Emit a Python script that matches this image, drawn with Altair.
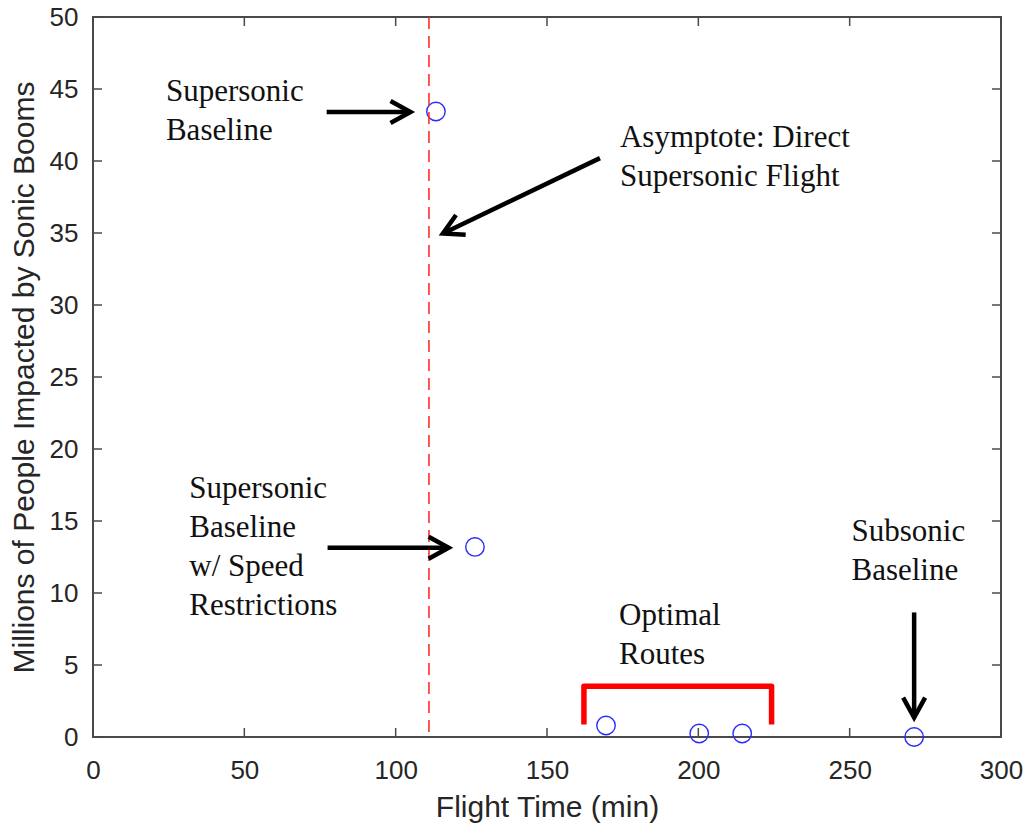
import altair as alt
import pandas as pd

# ---------------- data ----------------
flight_time = [113.3, 126.2, 169.5, 200.3, 214.5, 271.3]
people_millions = [43.44, 13.2, 0.8, 0.24, 0.24, 0.0]

asymptote_x = [111.0]

arrow_x_start = [77.2, 167.5, 77.5, 271.3]
arrow_y_start = [43.4, 40.2, 13.14, 8.65]
arrow_x_end = [104.9, 115.6, 117.5, 271.3]
arrow_y_end = [43.4, 34.96, 13.14, 1.35]
arrow_angle = [0, 154, 0, 90]

bracket_x = [162.2, 162.2, 224.2, 224.2]
bracket_y = [0.87, 3.53, 3.53, 0.87]
bracket_order = [0, 1, 2, 3]

label_text = [
    "Supersonic\nBaseline",
    "Asymptote: Direct\nSupersonic Flight",
    "Supersonic\nBaseline\nw/ Speed\nRestrictions",
    "Optimal\nRoutes",
    "Subsonic\nBaseline",
]
label_x = [24.1, 174.1, 31.8, 173.8, 250.6]
label_y = [44.15, 40.94, 16.63, 7.81, 13.6]

x_ticks = [0, 50, 100, 150, 200, 250, 300]
y_ticks = [0, 5, 10, 15, 20, 25, 30, 35, 40, 45, 50]

W, H = 908, 720
TICK = 9
AXIS_COLOR = "#4a4a4a"
TEXT_COLOR = "#262626"

xs = alt.Scale(domain=[0, 300], nice=False, zero=False)
ys = alt.Scale(domain=[0, 50], nice=False, zero=False)

x_axis = alt.Axis(
    values=x_ticks, title="Flight Time (min)", grid=False, ticks=False, tickSize=0,
    domain=False, labelPadding=20, titlePadding=9, labelFontSize=26, titleFontSize=30,
    labelFont="Liberation Sans", titleFont="Liberation Sans", titleFontWeight="normal",
    labelColor=TEXT_COLOR, titleColor=TEXT_COLOR, labelFlush=False, labelOverlap=False)
y_axis = alt.Axis(
    values=y_ticks, title="Millions of People Impacted by Sonic Booms", grid=False,
    ticks=False, tickSize=0, domain=False, labelPadding=15, titlePadding=10,
    labelFontSize=26, titleFontSize=30, labelFont="Liberation Sans",
    titleFont="Liberation Sans", titleFontWeight="normal",
    labelColor=TEXT_COLOR, titleColor=TEXT_COLOR, labelFlush=False, labelOverlap=False)


def X(field):
    return alt.X(field, scale=xs, axis=x_axis)


def Y(field):
    return alt.Y(field, scale=ys, axis=y_axis)


pts = pd.DataFrame({"x": flight_time, "y": people_millions})
asym = pd.DataFrame({"x": asymptote_x})
arrows = pd.DataFrame({
    "x": arrow_x_start, "y": arrow_y_start,
    "x2": arrow_x_end, "y2": arrow_y_end, "angle": arrow_angle,
})
bracket = pd.DataFrame({"x": bracket_x, "y": bracket_y, "o": bracket_order})
labels = pd.DataFrame({"x": label_x, "y": label_y, "t": label_text})
xt = pd.DataFrame({"x": x_ticks})
yt = pd.DataFrame({"y": y_ticks})

points = alt.Chart(pts).mark_point(
    shape="circle", filled=False, color="#2a2aff", strokeWidth=1.4, size=340, opacity=1
).encode(x=X("x:Q"), y=Y("y:Q"))

asym_line = alt.Chart(asym).mark_rule(
    color="#ff2020", strokeWidth=1.5, strokeDash=[12, 7]
).encode(x=X("x:Q"), y=alt.value(0), y2=alt.value(H))

bracket_line = alt.Chart(bracket).mark_line(
    color="#ff0000", strokeWidth=5.5, strokeJoin="round", strokeCap="butt"
).encode(x=X("x:Q"), y=Y("y:Q"), order="o:Q")

shafts = alt.Chart(arrows).mark_rule(
    color="black", strokeWidth=4.5, strokeCap="butt"
).encode(x=X("x:Q"), y=Y("y:Q"), x2="x2:Q", y2="y2:Q")

heads = alt.Chart(arrows).mark_point(
    shape="M-1,-0.55L0,0L-1,0.55", filled=False, stroke="black", strokeWidth=4.5,
    strokeJoin="miter", size=1600, opacity=1
).encode(x=X("x2:Q"), y=Y("y2:Q"), angle=alt.Angle("angle:Q", scale=None))

texts = alt.Chart(labels).mark_text(
    align="left", baseline="alphabetic", font="Liberation Serif", fontSize=31,
    lineHeight=39, lineBreak="\n", color="#111111"
).encode(x=X("x:Q"), y=Y("y:Q"), text="t:N")

tick_style = dict(color=AXIS_COLOR, strokeWidth=1.5)
xb = alt.Chart(xt).mark_rule(**tick_style).encode(
    x=X("x:Q"), y=alt.value(H), y2=alt.value(H - TICK))
xtop = alt.Chart(xt).mark_rule(**tick_style).encode(
    x=X("x:Q"), y=alt.value(0), y2=alt.value(TICK))
yl = alt.Chart(yt).mark_rule(**tick_style).encode(
    y=Y("y:Q"), x=alt.value(0), x2=alt.value(TICK))
yr = alt.Chart(yt).mark_rule(**tick_style).encode(
    y=Y("y:Q"), x=alt.value(W), x2=alt.value(W - TICK))

chart = alt.layer(
    points, asym_line, bracket_line, xb, xtop, yl, yr, shafts, heads, texts
).properties(
    width=W, height=H,
    autosize=alt.AutoSizeParams(type="none"),
    padding={"left": 93, "top": 17, "right": 25, "bottom": 87},
    background="white",
).configure_view(stroke=AXIS_COLOR, strokeWidth=2)

chart.save("out.html", embed_options={"renderer": "svg", "actions": False})
